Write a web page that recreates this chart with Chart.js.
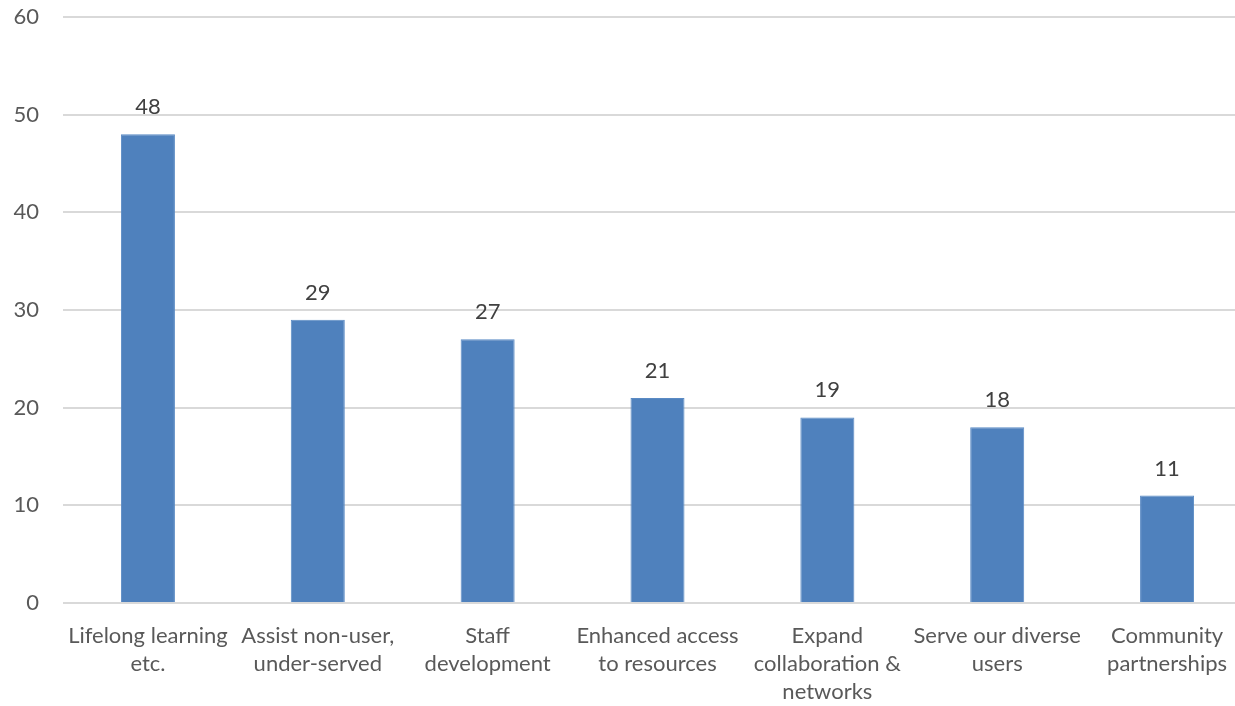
<!DOCTYPE html>
<html>
<head>
<meta charset="utf-8">
<script src="https://cdn.jsdelivr.net/npm/chart.js@4/dist/chart.umd.min.js"></script>
<style>
  html, body { margin: 0; padding: 0; background: #fff; overflow: hidden; }
  #wrap { width: 1252px; height: 706px; position: relative; }
</style>
</head>
<body>
<div id="wrap"><canvas id="goalsChart"></canvas></div>
<script>
var categories = [
  ['Lifelong learning', 'etc.'],
  ['Assist non-user,', 'under-served'],
  ['Staff', 'development'],
  ['Enhanced access', 'to resources'],
  ['Expand', 'collaboration &', 'networks'],
  ['Serve our diverse', 'users'],
  ['Community', 'partnerships']
];
var counts = [48, 29, 27, 21, 19, 18, 11];
var yTicks = [0, 10, 20, 30, 40, 50, 60];

var textColor = '#595959';
var fontFamily = 'Lato, "Liberation Sans", sans-serif';

// prints each bar's value just above it
var valueLabels = {
  id: 'valueLabels',
  afterDatasetsDraw: function(chart) {
    var ctx = chart.ctx;
    var meta = chart.getDatasetMeta(0);
    ctx.save();
    ctx.font = '22px ' + fontFamily;
    ctx.fillStyle = '#404040';
    ctx.textAlign = 'center';
    ctx.textBaseline = 'alphabetic';
    meta.data.forEach(function(bar, i) {
      ctx.fillText(chart.data.datasets[0].data[i], bar.x, bar.y - 20);
    });
    ctx.restore();
  }
};

var ctx = document.getElementById('goalsChart').getContext('2d');
var goalsChart = new Chart(ctx, {
  type: 'bar',
  data: {
    labels: categories,
    datasets: [{
      data: counts,
      backgroundColor: '#4f81bd',
      borderColor: '#5a8ac4',
      borderWidth: 1,
      barPercentage: 1,
      categoryPercentage: 0.318
    }]
  },
  options: {
    responsive: true,
    maintainAspectRatio: false,
    animation: false,
    layout: { padding: { top: 17, right: 0, left: 0, bottom: 0 } },
    plugins: {
      legend: { display: false },
      tooltip: { enabled: false }
    },
    scales: {
      x: {
        grid: { display: false, drawTicks: false },
        border: { display: false },
        ticks: {
          color: textColor,
          font: { family: fontFamily, size: 22, lineHeight: 1.28 },
          padding: 19,
          maxRotation: 0,
          autoSkip: false
        },
        afterFit: function(scale) { scale.height = 103; }
      },
      y: {
        min: 0,
        max: 60,
        grid: { color: '#d9d9d9', lineWidth: 2, drawTicks: false },
        border: { display: false },
        afterBuildTicks: function(scale) {
          scale.ticks = yTicks.map(function(v) { return { value: v }; });
        },
        ticks: {
          color: textColor,
          font: { family: fontFamily, size: 22 },
          padding: 24
        },
        afterFit: function(scale) {
          // fixed gutter for the labels; no extra room above the top line
          scale.width = 63;
          scale.paddingTop = 0;
          scale.paddingBottom = 0;
        }
      }
    }
  },
  plugins: [valueLabels]
});
</script>
</body>
</html>
